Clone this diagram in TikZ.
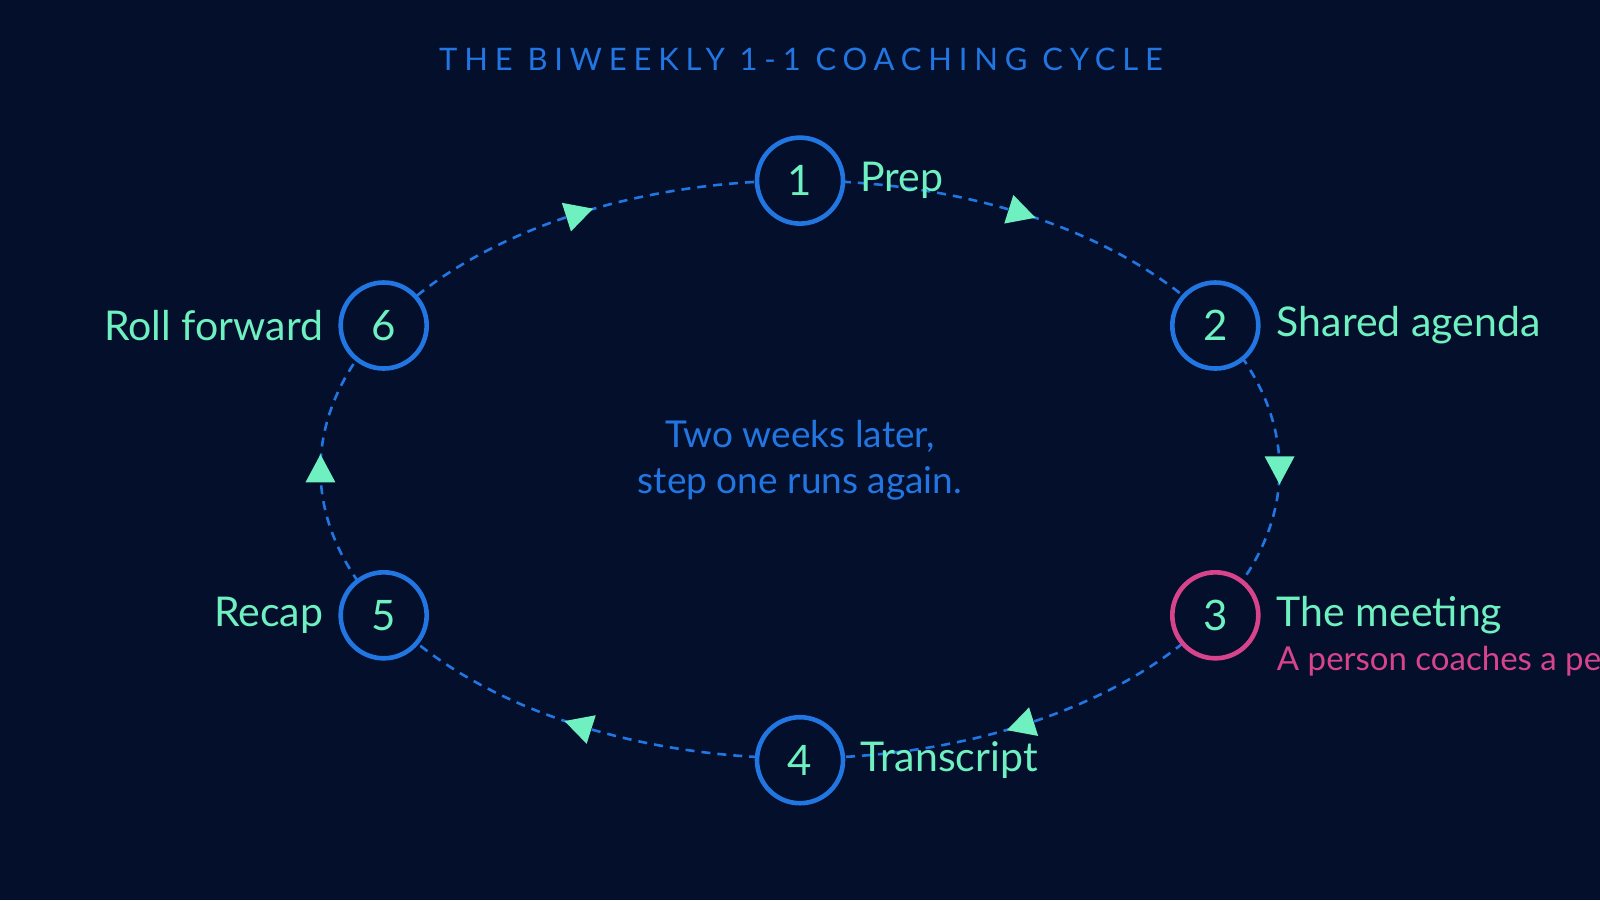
\documentclass[tikz,border=0pt]{standalone}
\usepackage{fontspec}
\setmainfont{Lato}
\usetikzlibrary{decorations.markings}
\definecolor{bg}{HTML}{040F2C}
\definecolor{cblue}{HTML}{2276E2}
\definecolor{mint}{HTML}{6FF0C0}
\definecolor{cpink}{HTML}{D8448C}
\begin{document}
\begin{tikzpicture}[x=0.5102pt,y=-0.5102pt,
  stepnode/.style={circle,draw=cblue,line width=2.3pt,fill=bg,minimum size=43pt,inner sep=0pt,text=mint,font=\fontsize{21}{24}\selectfont},
  lbl/.style={text=mint,font=\fontsize{20.5}{24}\selectfont,inner sep=0pt},
  link/.style={draw=cblue,line width=1.3pt,dash pattern=on 4.5pt off 3.5pt,
    postaction={decorate},decoration={markings,mark=at position 0.5 with {\fill[mint] (7.5pt,0) -- (-6.5pt,7.5pt) -- (-6.5pt,-7.5pt) -- cycle;}}}]
\fill[bg] (0,0) rectangle (1568,882);
\useasboundingbox (0,0) rectangle (1568,882);
\clip (0,0) rectangle (1568,882);
\node[text=cblue,font=\fontsize{15.5}{18}\selectfont] (title) at (785,58) {\addfontfeature{LetterSpace=22}THE BIWEEKLY 1-1 COACHING CYCLE};
\foreach \a/\b in {85/37, 23/-23, -37/-85, -95/-143, -157/-203, -217/-265}
  \draw[link] plot[domain=\a:\b,samples=40,variable=\t] ({784+470*cos(\t)},{460-283*sin(\t)});
\node[stepnode] (n1) at (784,177) {1};
\node[stepnode] (n2) at (1191,319) {2};
\node[stepnode,draw=cpink] (n3) at (1191,603) {3};
\node[stepnode] (n4) at (784,745) {4};
\node[stepnode] (n5) at (376,603) {5};
\node[stepnode] (n6) at (376,319) {6};
\node[lbl,anchor=west] (l1) at (843,177) {Prep};
\node[lbl,anchor=west] (l2) at (1251,319) {Shared agenda};
\node[lbl,anchor=west] (l3) at (1251,603) {The meeting};
\node[text=cpink,font=\fontsize{16.5}{20}\selectfont,anchor=west,inner sep=0pt] (s3) at (1251,648) {A person coaches a person.};
\node[lbl,anchor=west] (l4) at (843,745) {Transcript};
\node[lbl,anchor=east] (l5) at (317,603) {Recap};
\node[lbl,anchor=east] (l6) at (317,319) {Roll forward};
\node[text=cblue,font=\fontsize{18.5}{23}\selectfont,align=center] (mid) at (784,451) {Two weeks later,\\step one runs again.};
\end{tikzpicture}
\end{document}
